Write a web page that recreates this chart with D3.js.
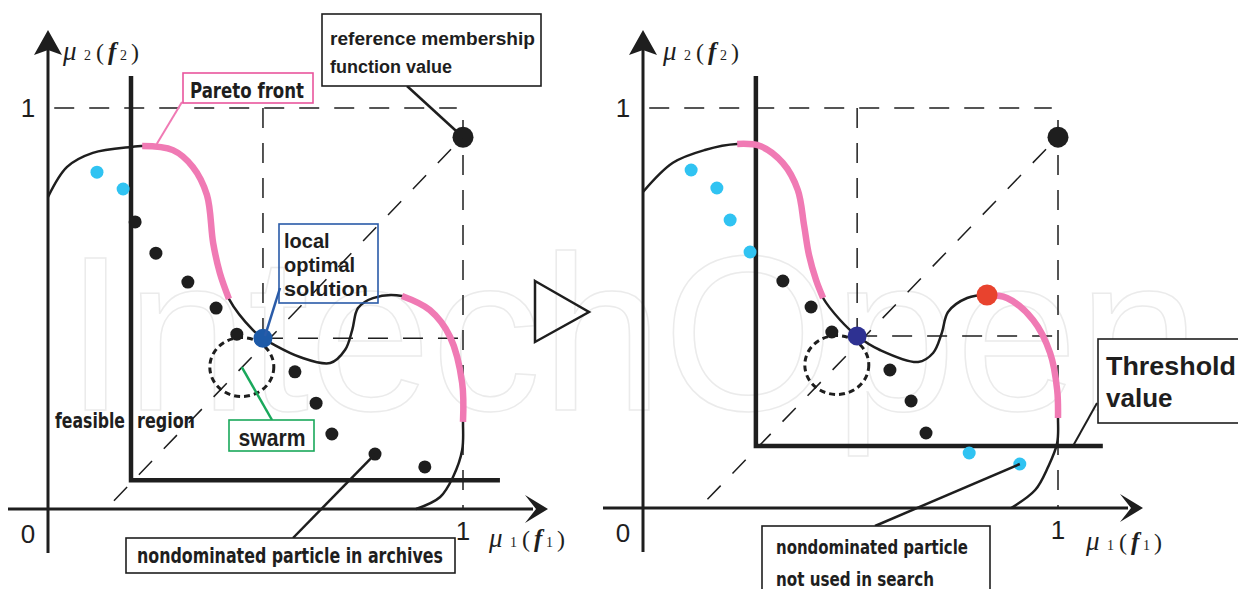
<!DOCTYPE html>
<html>
<head>
<meta charset="utf-8">
<script src="https://cdn.jsdelivr.net/npm/d3@7"></script>
<style>
  html, body { margin: 0; padding: 0; background: #fff; }
  svg { display: block; }
</style>
</head>
<body>
<svg id="chart" width="1238" height="589"></svg>
<script>
// values, in membership units [mu1, mu2]
const leftCurve = [
  [0, 0.778], [0.046, 0.853], [0.108, 0.888], [0.202, 0.903], [0.227, 0.905],
  [0.301, 0.895], [0.349, 0.853], [0.383, 0.783], [0.398, 0.663], [0.414, 0.589],
  [0.436, 0.524], [0.494, 0.446], [0.518, 0.426], [0.542, 0.411], [0.607, 0.379],
  [0.68, 0.364], [0.716, 0.397], [0.733, 0.446], [0.747, 0.501], [0.783, 0.526],
  [0.853, 0.531], [0.92, 0.496], [0.969, 0.429], [0.998, 0.314], [1.0, 0.217],
  [0.998, 0.147], [0.976, 0.08], [0.945, 0.03], [0.887, 0]
];
const leftPinkRanges = [[4, 10], [20, 24]];

const rightCurve = [
  [0, 0.79], [0.072, 0.863], [0.149, 0.895], [0.227, 0.91], [0.282, 0.905],
  [0.337, 0.8625], [0.373, 0.795], [0.388, 0.7075], [0.4, 0.6325], [0.417, 0.57],
  [0.434, 0.525], [0.475, 0.47], [0.516, 0.43], [0.571, 0.395], [0.663, 0.365],
  [0.699, 0.3875], [0.72, 0.4375], [0.735, 0.49], [0.781, 0.525], [0.829, 0.5325],
  [0.877, 0.525], [0.94, 0.47], [0.981, 0.3875], [0.998, 0.295], [1.0, 0.225],
  [0.998, 0.1625], [0.976, 0.1025], [0.945, 0.045], [0.887, 0]
];
const rightPinkRanges = [[3, 10], [19, 24]];

const leftArchive = [
  [0.21, 0.716], [0.26, 0.638], [0.337, 0.566], [0.405, 0.501], [0.455, 0.436],
  [0.595, 0.342], [0.646, 0.264], [0.684, 0.187], [0.788, 0.137], [0.908, 0.105]
];
const leftUnused = [[0.118, 0.84], [0.181, 0.798]];

const rightArchive = [
  [0.337, 0.5675], [0.405, 0.5025], [0.455, 0.44], [0.595, 0.345], [0.646, 0.2675], [0.682, 0.1875]
];
const rightUnused = [
  [0.116, 0.845], [0.178, 0.8], [0.21, 0.72], [0.258, 0.64], [0.786, 0.1375], [0.908, 0.11]
];

const refPoint = [1, 0.927];
const leftLocal = [0.518, 0.426];
const rightLocal = [0.516, 0.43];
const rightBest = [0.829, 0.5325];
const leftThreshold = [0.2, 0.072];
const rightThreshold = [0.272, 0.155];
const swarmCenters = [[0.467, 0.354], [0.467, 0.3575]];
const diagonalEnds = [0.14, 0.135];
const tickLabels = ["0", "1"];

const PINK = "#f07ab4";
const CYAN = "#30c3f2";
const INK = "#1e1e1e";
const SANS = "'Liberation Sans', Arial, sans-serif";
const NARROW = "'Liberation Sans Narrow', 'Arial Narrow', 'DejaVu Sans Condensed', sans-serif";

const svg = d3.select("#chart");

// faint watermark behind everything
svg.append("text")
  .attr("x", 65).attr("y", 410)
  .attr("font-family", SANS).attr("font-size", 220)
  .attr("fill", "none").attr("stroke", "#ebebeb").attr("stroke-width", 1.5)
  .attr("textLength", 1135).attr("lengthAdjust", "spacingAndGlyphs")
  .text("IntechOpen");

function seg(g, x1, y1, x2, y2) {
  return g.append("line").attr("x1", x1).attr("y1", y1).attr("x2", x2).attr("y2", y2);
}

function muLabel(x, y, sub) {
  const t = svg.append("text").attr("x", x).attr("y", y)
    .attr("font-family", "'Liberation Serif', serif").attr("fill", INK);
  const parts = [
    { s: "μ", dx: 0, size: 27, style: "italic" },
    { s: sub, dx: 21, size: 14 },
    { s: "(", dx: 33, size: 24 },
    { s: "f", dx: 45, size: 25, style: "italic", weight: "bold" },
    { s: sub, dx: 57, size: 14 },
    { s: ")", dx: 68, size: 24 }
  ];
  parts.forEach((p) => {
    t.append("tspan").attr("x", x + p.dx)
      .attr("font-size", p.size)
      .attr("font-style", p.style || "normal")
      .attr("font-weight", p.weight || "normal")
      .text(p.s);
  });
}

function drawPanel(o) {
  const xs = d3.scaleLinear().domain([0, 1]).range(o.xRange);
  const ys = d3.scaleLinear().domain([0, 1]).range(o.yRange);
  const g = svg.append("g");

  // dashed guides
  const guides = g.append("g").attr("stroke", INK).attr("stroke-width", 1.5)
    .attr("stroke-dasharray", "20,15").attr("fill", "none");
  seg(guides, xs(0.015), ys(1), xs(0.985), ys(1));
  seg(guides, xs(1), ys(0.97), xs(1), ys(0));
  seg(guides, xs(o.local[0]), ys(1), xs(o.local[0]), ys(o.local[1]));
  seg(guides, xs(o.local[0]), ys(o.local[1]), xs(1), ys(o.local[1]));
  seg(guides, xs(refPoint[0]) - 12, ys(refPoint[1]) + 12, xs(o.diagEnd), ys(0))
    .attr("stroke-dasharray", "19,17");

  // axes with arrow heads
  const ax = xs(0), ay = ys(0);
  g.append("line").attr("x1", ax).attr("y1", ay + 44).attr("x2", ax).attr("y2", 48)
    .attr("stroke", INK).attr("stroke-width", 3);
  g.append("line").attr("x1", ax - 40).attr("y1", ay).attr("x2", ax + 485).attr("y2", ay)
    .attr("stroke", INK).attr("stroke-width", 3);
  g.append("path")
    .attr("d", `M${ax},30 L${ax + 14},55 L${ax},50 L${ax - 14},55 Z`).attr("fill", INK);
  g.append("path")
    .attr("d", `M${ax + 500},${ay} L${ax + 477},${ay + 14} L${ax + 488},${ay} L${ax + 477},${ay - 14} Z`)
    .attr("fill", INK);

  // tick labels 0 / 1
  const tl = g.append("g").attr("font-family", SANS).attr("font-size", 26).attr("fill", INK)
    .attr("text-anchor", "middle");
  tl.append("text").attr("x", ax - 20).attr("y", ay + 34).text(tickLabels[0]);
  tl.append("text").attr("x", xs(1)).attr("y", ay + 31).text(tickLabels[1]);
  tl.append("text").attr("x", ax - 20).attr("y", ys(1) + 9).text(tickLabels[1]);

  // threshold lines
  const th = o.threshold;
  g.append("path")
    .attr("d", `M${xs(th[0])},${ys(1.08)} L${xs(th[0])},${ys(th[1])} L${xs(o.thEnd)},${ys(th[1])}`)
    .attr("fill", "none").attr("stroke", INK).attr("stroke-width", 4.5);

  // swarm circle
  g.append("ellipse")
    .attr("cx", xs(o.swarm[0])).attr("cy", ys(o.swarm[1]))
    .attr("rx", 32).attr("ry", 29.5)
    .attr("fill", "none").attr("stroke", INK).attr("stroke-width", 3)
    .attr("stroke-dasharray", "6,4");

  // Pareto front curve
  const line = d3.line().x((d) => xs(d[0])).y((d) => ys(d[1]))
    .curve(d3.curveCatmullRom.alpha(0.5));
  g.append("path").attr("d", line(o.curve))
    .attr("fill", "none").attr("stroke", INK).attr("stroke-width", 2.5);
  o.pinkRanges.forEach(([a, b]) => {
    g.append("path").attr("d", line(o.curve.slice(a, b + 1)))
      .attr("fill", "none").attr("stroke", PINK).attr("stroke-width", 6.5);
  });

  // particles
  g.selectAll(".arch").data(o.archive).enter().append("circle")
    .attr("cx", (d) => xs(d[0])).attr("cy", (d) => ys(d[1])).attr("r", 6.5).attr("fill", INK);
  g.selectAll(".unused").data(o.unused).enter().append("circle")
    .attr("cx", (d) => xs(d[0])).attr("cy", (d) => ys(d[1])).attr("r", 6.5).attr("fill", CYAN);

  g.append("circle").attr("cx", xs(refPoint[0])).attr("cy", ys(refPoint[1]))
    .attr("r", 10.5).attr("fill", INK);
  g.append("circle").attr("cx", xs(o.local[0])).attr("cy", ys(o.local[1]))
    .attr("r", 9.5).attr("fill", o.localColor);

  return { xs, ys };
}

function box(x, y, w, h, color, fill) {
  svg.append("rect").attr("x", x).attr("y", y).attr("width", w).attr("height", h)
    .attr("fill", fill || "none").attr("stroke", color).attr("stroke-width", 1.6);
}

function label(x, y, str, size, family, len, anchor) {
  const t = svg.append("text").attr("x", x).attr("y", y)
    .attr("font-family", family).attr("font-size", size).attr("font-weight", "bold")
    .attr("fill", INK).attr("text-anchor", anchor || "start").text(str);
  if (len) t.attr("textLength", len).attr("lengthAdjust", "spacingAndGlyphs");
  return t;
}

// ---------- left panel ----------
const L = drawPanel({
  xRange: [48, 463], yRange: [509, 108],
  curve: leftCurve, pinkRanges: leftPinkRanges,
  archive: leftArchive, unused: leftUnused,
  local: leftLocal, localColor: "#1d5aa8",
  threshold: leftThreshold, thEnd: 1.089,
  swarm: swarmCenters[0], diagEnd: diagonalEnds[0]
});

// ---------- right panel ----------
const R = drawPanel({
  xRange: [643, 1058], yRange: [508, 108],
  curve: rightCurve, pinkRanges: rightPinkRanges,
  archive: rightArchive, unused: rightUnused,
  local: rightLocal, localColor: "#2e3192",
  threshold: rightThreshold, thEnd: 1.108,
  swarm: swarmCenters[1], diagEnd: diagonalEnds[1]
});
svg.append("circle").attr("cx", R.xs(rightBest[0])).attr("cy", R.ys(rightBest[1]))
  .attr("r", 10.5).attr("fill", "#e8432e");

// axis titles
muLabel(63, 60, "2");
muLabel(489, 547, "1");
muLabel(663, 60, "2");
muLabel(1086, 550, "1");

// ---------- callouts, left ----------
// Pareto front
seg(svg, 182, 102, L.xs(0.262), L.ys(0.905) - 2).attr("stroke", PINK).attr("stroke-width", 2);
box(183, 73, 130, 30, "#e9559d", "#fff");
label(190, 98, "Pareto front", 22, NARROW, 114);

// reference membership function value
seg(svg, 407, 86, L.xs(refPoint[0]), L.ys(refPoint[1])).attr("stroke", INK).attr("stroke-width", 2.5);
box(322, 14, 219, 72, INK, "#fff");
label(330, 45, "reference membership", 18, SANS, 205);
label(330, 73, "function value", 18, SANS);

// local optimal solution
seg(svg, 280, 288, L.xs(leftLocal[0]) + 2, L.ys(leftLocal[1]) - 2)
  .attr("stroke", "#2a5ba8").attr("stroke-width", 2.5);
box(279, 224, 99, 79, "#2a5ba8");
label(284, 248, "local", 20, SANS);
label(284, 272, "optimal", 20, SANS);
label(284, 296, "solution", 20, SANS, 84);

// swarm
seg(svg, L.xs(swarmCenters[0][0]), L.ys(swarmCenters[0][1]), 272, 420)
  .attr("stroke", "#19a85b").attr("stroke-width", 2.5);
box(229, 420, 85, 31, "#19a85b", "#fff");
label(272, 446, "swarm", 23, SANS, 67, "middle");

// feasible region (the threshold line runs through the gap)
label(55, 428, "feasible", 22, NARROW, 70);
label(137, 428, "region", 22, NARROW, 58);

// nondominated particle in archives
seg(svg, 293, 538, L.xs(leftArchive[8][0]), L.ys(leftArchive[8][1])).attr("stroke", INK).attr("stroke-width", 2.5);
box(126, 538, 329, 35, INK, "#fff");
label(290, 563, "nondominated particle in archives", 21, NARROW, 306, "middle");

// transition arrow between the panels
svg.append("path").attr("d", "M535,281 L589,312 L535,342 Z")
  .attr("fill", "none").attr("stroke", INK).attr("stroke-width", 2.5).attr("stroke-linejoin", "miter");

// ---------- callouts, right ----------
seg(svg, 1097, 403, 1073, R.ys(rightThreshold[1])).attr("stroke", INK).attr("stroke-width", 2);
box(1098, 339, 150, 84, INK, "#fff");
label(1106, 375, "Threshold", 26, SANS, 130);
label(1106, 407, "value", 26, SANS);

seg(svg, 875, 526, R.xs(rightUnused[5][0]), R.ys(rightUnused[5][1])).attr("stroke", INK).attr("stroke-width", 2.5);
box(762, 526, 228, 70, INK, "#fff");
label(776, 554, "nondominated particle", 20, NARROW, 192);
label(776, 586, "not used in search", 20, NARROW, 158);
</script>
</body>
</html>
